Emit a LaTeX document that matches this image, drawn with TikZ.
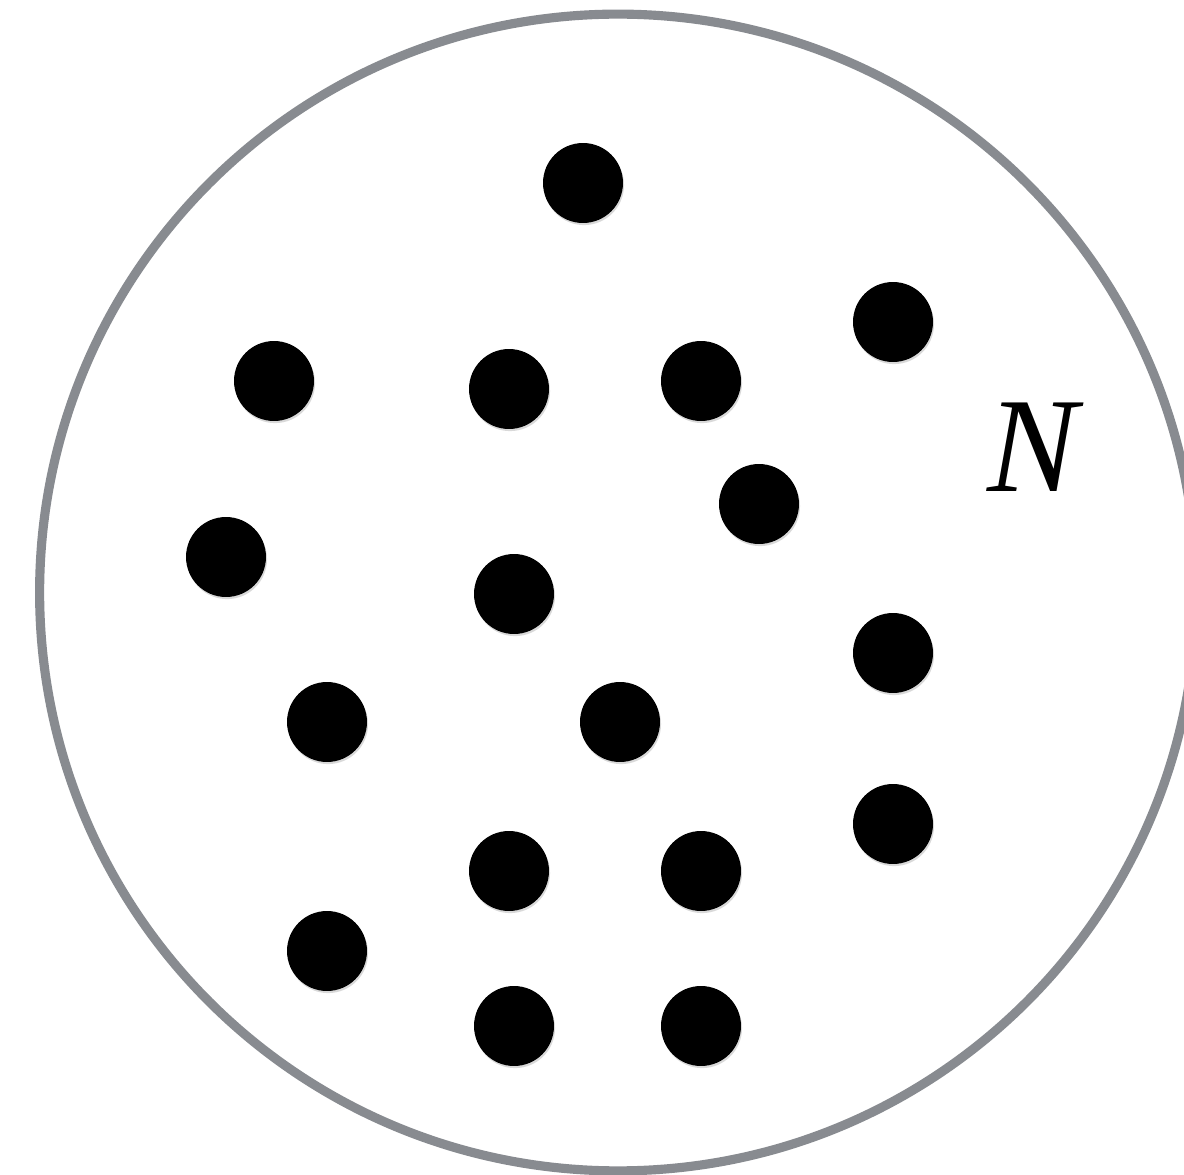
\documentclass[tikz,border=0pt]{standalone}
\usepackage{fontspec}
\setmainfont{Liberation Serif}
\usetikzlibrary{shadows}
\definecolor{rimgray}{HTML}{888B90}

\begin{document}
\begin{tikzpicture}[x=0.02cm, y=-0.02cm,
        region/.style={circle, draw=rimgray, line width=5.2pt, inner sep=0pt,
                minimum size=23.14cm},
        dot/.style={circle, fill=black, inner sep=0pt, minimum size=1.6cm,
                drop shadow={shadow xshift=0.6pt, shadow yshift=-1.2pt, opacity=0.3}}
    ]
    \useasboundingbox (0,0) rectangle (1184,1175);
    \clip (0,0) rectangle (1184,1175);
    \node[region] (set) at (618,592.5) {};
    \foreach \px/\py [count=\i] in {583/183, 893/322, 274/381, 509/389, 701/381,
            759/504, 226/557, 514/594, 893/653, 327/722, 620/722, 893/824,
            509/871, 701/871, 327/951, 514/1026, 701/1026}
        \node[dot] (p\i) at (\px,\py) {};
    \node[font=\fontsize{77}{80}\selectfont\itshape] (lbl) at (1033,447) {N};
\end{tikzpicture}
\end{document}
